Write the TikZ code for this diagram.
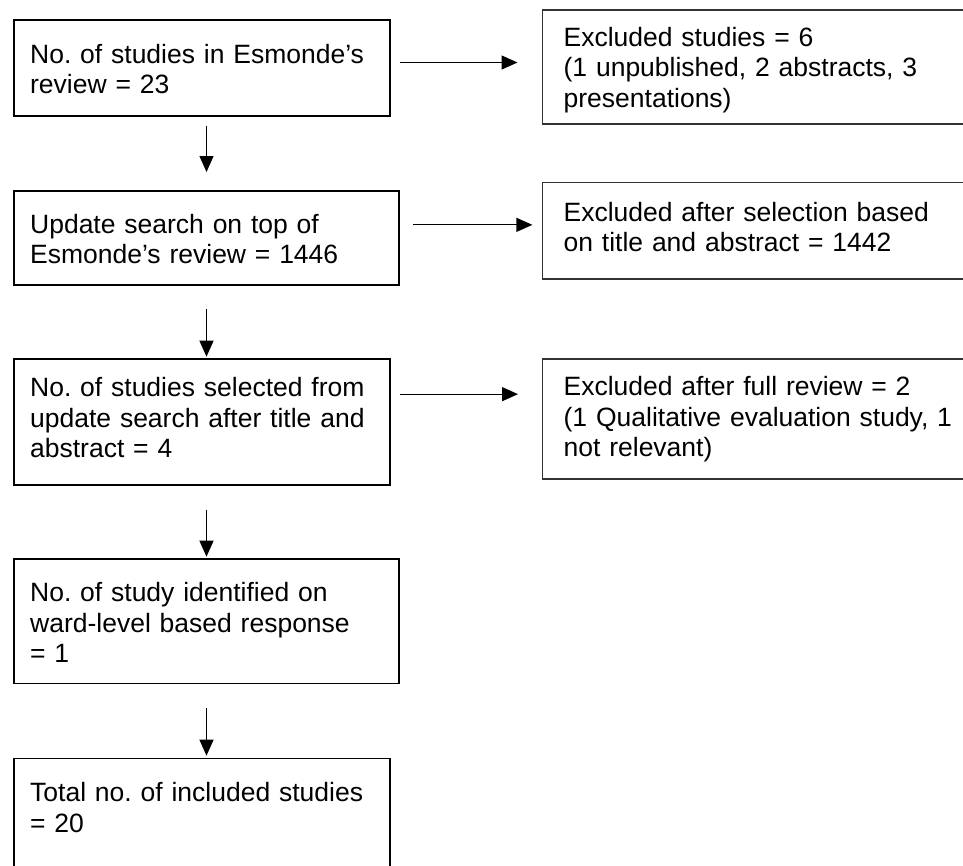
\documentclass[tikz,border=0pt]{standalone}
\usepackage{fontspec}
\setmainfont{Liberation Sans}
\frenchspacing
\usetikzlibrary{arrows.meta}
\begin{document}
\begin{tikzpicture}[
        x=1pt, y=-1pt,
        stage/.style={rectangle, draw=black, line width=1.7pt, anchor=north west, align=left,
            inner xsep=16pt, inner ysep=0pt, font=\fontsize{26.5}{30.5}\selectfont},
        excl/.style={rectangle, draw=black!80, line width=1.3pt, anchor=north west, align=left,
            inner xsep=21pt, inner ysep=0pt, text width=391pt, font=\fontsize{26.5}{30.5}\selectfont},
        flow/.style={line width=1.2pt, -{Triangle[length=16pt, width=14pt]}},
        ]
        \useasboundingbox (0,0) rectangle (963,865);
        % Main column
        \node[stage, text width=343.7pt, text height=43pt, text depth=52.7pt] (s1) at (13.3,19.3)
            {No. of studies in Esmonde’s\\review = 23};
        \node[stage, text width=352.7pt, text height=42.3pt, text depth=51.7pt] (s2) at (13.3,190)
            {Update search on top of\\Esmonde’s review = 1446};
        \node[stage, text width=343.7pt, text height=37.7pt, text depth=88.3pt] (s3) at (13.3,358)
            {No. of studies selected from\\update search after title and\\abstract = 4};
        \node[stage, text width=352.7pt, text height=42.4pt, text depth=82pt] (s4) at (13.3,558.3)
            {No. of study identified on\\ward-level based response\\= 1};
        \node[stage, text width=343.7pt, text height=43pt, text depth=77pt] (s5) at (13.3,757.7)
            {Total no. of included studies\\= 20};
        % Excluded boxes
        \node[excl, text height=36.4pt, text depth=77.6pt] (x1) at (542,9.3)
            {Excluded studies = 6\\(1 unpublished, 2 abstracts, 3\\presentations)};
        \node[excl, text height=38.7pt, text depth=57.6pt] (x2) at (542,182)
            {Excluded after selection based\\on title and abstract = 1442};
        \node[excl, text height=36.7pt, text depth=83.3pt] (x3) at (542,358.3)
            {Excluded after full review = 2\\(1 Qualitative evaluation study, 1\\not relevant)};
        % Downward arrows
        \draw[flow, shorten <=9pt, shorten >=18pt] (s1.south -| s2.north) -- (s2.north);
        \draw[flow, shorten <=23pt, shorten >=1.3pt] (s2.south) -- (s2.south |- s3.north);
        \draw[flow, shorten <=24pt, shorten >=1.6pt] (s3.south -| s4.north) -- (s4.north);
        \draw[flow, shorten <=24pt, shorten >=2pt] (s4.south) -- (s4.south |- s5.north);
        % Side arrows
        \coordinate (a1) at ([yshift=5.5pt]s1.east);
        \coordinate (a2) at ([yshift=13pt]s2.east);
        \coordinate (a3) at ([yshift=27.7pt]s3.east);
        \draw[flow, shorten <=8.8pt, shorten >=24.5pt] (a1) -- (a1 -| x1.west);
        \draw[flow, shorten <=13.6pt, shorten >=9.6pt] (a2) -- (a2 -| x2.west);
        \draw[flow, shorten <=8.8pt, shorten >=24pt] (a3) -- (a3 -| x3.west);
    \end{tikzpicture}
\end{document}
